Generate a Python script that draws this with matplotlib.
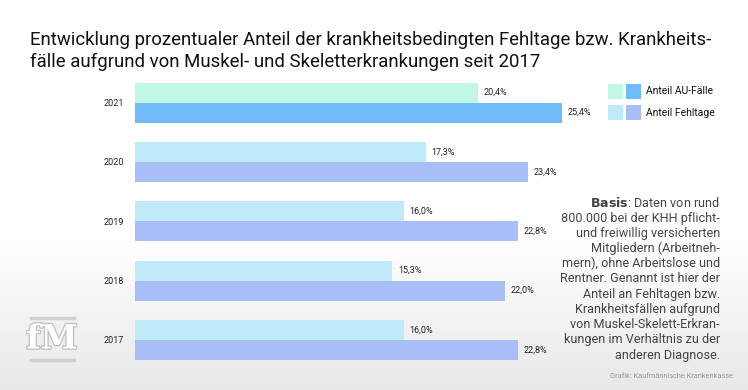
import numpy as np
import matplotlib
matplotlib.use("Agg")
import matplotlib.pyplot as plt
import matplotlib.patheffects as pe
from matplotlib.patches import Rectangle

plt.rcParams['font.family'] = ['Roboto', 'DejaVu Sans']

# data
years = ["2021", "2020", "2019", "2018", "2017"]
au_faelle = [20.4, 17.3, 16.0, 15.3, 16.0]
fehltage = [25.4, 23.4, 22.8, 22.0, 22.8]
au_labels = ["20,4%", "17,3%", "16,0%", "15,3%", "16,0%"]
ft_labels = ["25,4%", "23,4%", "22,8%", "22,0%", "22,8%"]

# colours: highlighted year (2021) vs. other years
au_colors = ["#c0f7e6"] + ["#bfeafa"] * 4
ft_colors = ["#6fbcf9"] + ["#a9bef7"] * 4

W, H = 748, 390
fig = plt.figure(figsize=(W / 100, H / 100), dpi=100)

# background gradient (white -> light grey towards bottom)
bg = fig.add_axes([0, 0, 1, 1], zorder=-10)
grad = np.ones((H, 1))
rows = np.arange(H)
start = 240
grad[start:, 0] = 1 - (rows[start:] - start) / (H - start) * 0.09
bg.imshow(np.dstack([grad, grad, grad]), aspect='auto', extent=[0, 1, 0, 1],
          origin='upper')
bg.axis('off')

# title
fig.text(30 / W, 1 - 40 / H, "Entwicklung prozentualer Anteil der krankheitsbedingten Fehltage bzw. Krankheits-",
         fontsize=13.45, va='center', ha='left', color='#111111')
fig.text(30 / W, 1 - 62 / H, "fälle aufgrund von Muskel- und Skeletterkrankungen seit 2017",
         fontsize=13.45, va='center', ha='left', color='#111111')

# bar axes
px_per_unit = 16.8
ax_left, ax_top, ax_bot = 135, 73, 369.6
ax = fig.add_axes([ax_left / W, 1 - ax_bot / H, 30 * px_per_unit / W, (ax_bot - ax_top) / H])
ax.patch.set_alpha(0)
y = np.arange(len(years))
h = 0.3375
ax.barh(y - h / 2, au_faelle, height=h, color=au_colors, linewidth=0)
ax.barh(y + h / 2, fehltage, height=h, color=ft_colors, linewidth=0)
for i in range(len(years)):
    ax.text(au_faelle[i] + 0.35, y[i] - h / 2, au_labels[i], fontsize=6.5, va='center', color='#222222')
    ax.text(fehltage[i] + 0.35, y[i] + h / 2, ft_labels[i], fontsize=6.5, va='center', color='#222222')
ax.set_xlim(0, 30)
ax.set_ylim(4.5, -0.5)
ax.set_yticks(y)
ax.set_yticklabels(years, fontsize=6.5, color='#222222')
ax.tick_params(axis='y', length=0, pad=8)
ax.set_xticks([])
for s in ax.spines.values():
    s.set_visible(False)

# legend
sq = 15
for row, (c1, c2, lab) in enumerate([("#c0f7e6", "#6fbcf9", "Anteil AU-Fälle"),
                                      ("#bfeafa", "#a9bef7", "Anteil Fehltage")]):
    ytop = 84 + row * 21
    fig.patches.append(Rectangle((608 / W, 1 - (ytop + sq) / H), sq / W, sq / H,
                                 transform=fig.transFigure, color=c1, lw=0))
    fig.patches.append(Rectangle((626 / W, 1 - (ytop + sq) / H), sq / W, sq / H,
                                 transform=fig.transFigure, color=c2, lw=0))
    fig.text(646 / W, 1 - (ytop + sq / 2) / H, lab, fontsize=7.5, va='center', ha='left', color='#111111')

# note on the right
note = ["$\\bf{Basis}$: Daten von rund",
        "800.000 bei der KHH pflicht-",
        "und freiwillig versicherten",
        "Mitgliedern (Arbeitneh-",
        "mern), ohne Arbeitslose und",
        "Rentner. Genannt ist hier der",
        "Anteil an Fehltagen bzw.",
        "Krankheitsfällen aufgrund",
        "von Muskel-Skelett-Erkran-",
        "kungen im Verhältnis zu der",
        "anderen Diagnose."]
for i, line in enumerate(note):
    fig.text(720 / W, 1 - (203 + i * 15.2) / H, line, fontsize=9.1, ha='right', va='center', color='#444444')

fig.text(733 / W, 1 - 377 / H, "Grafik: Kaufmännische Krankenkasse", fontsize=5.3,
         ha='right', va='center', color='#999999')

# logo
fig.text(52 / W, 1 - 339 / H, "fM", fontsize=24, fontweight='bold', family='DejaVu Serif',
         ha='center', va='center', color='white',
         path_effects=[pe.withStroke(linewidth=2, foreground='#c4c4c4')])
fig.lines.append(plt.Line2D([31 / W, 74 / W], [1 - 318 / H] * 2, transform=fig.transFigure, color='#d0d0d0', lw=2.5))
fig.lines.append(plt.Line2D([31 / W, 74 / W], [1 - 360 / H] * 2, transform=fig.transFigure, color='#d0d0d0', lw=2.5))

fig.savefig("out.png", dpi=100)
